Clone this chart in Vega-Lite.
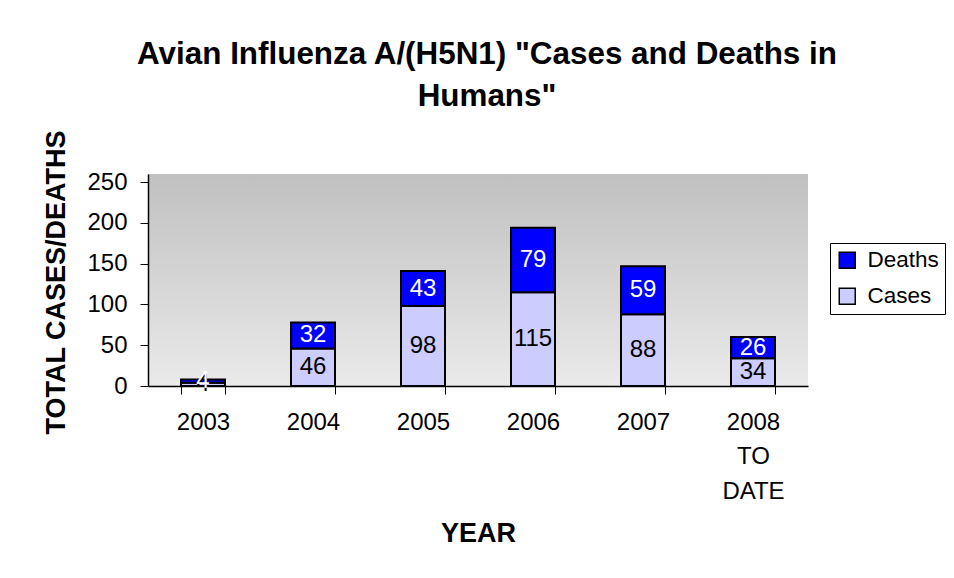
{
  "$schema": "https://vega.github.io/schema/vega-lite/v6.json",
  "width": 660,
  "height": 212,
  "autosize": {"type": "none"},
  "padding": {"left": 148, "top": 174, "right": 146, "bottom": 192},
  "background": "white",
  "title": {
    "text": ["Avian Influenza A/(H5N1) \"Cases and Deaths in", "Humans\""],
    "font": "Liberation Sans",
    "fontSize": 31.4,
    "fontWeight": "bold",
    "lineHeight": 42,
    "anchor": "middle",
    "offset": 17,
    "dx": 9,
    "color": "black"
  },
  "config": {
    "font": "Liberation Sans",
    "view": {
      "stroke": null,
      "fill": {
        "gradient": "linear",
        "x1": 0, "y1": 0, "x2": 0, "y2": 1,
        "stops": [{"offset": 0, "color": "#c0c0c0"}, {"offset": 1, "color": "#eaeaea"}]
      }
    },
    "axis": {
      "domainColor": "black",
      "domainWidth": 1.5,
      "tickColor": "black",
      "tickWidth": 1,
      "tickSize": 8,
      "grid": false,
      "labelFont": "Liberation Sans",
      "labelFontSize": 24,
      "labelColor": "black",
      "titleFont": "Liberation Sans",
      "titleFontSize": 27,
      "titleFontWeight": "bold",
      "titleColor": "black"
    }
  },
  "data": {
    "values": [
      {"year": "2003", "series": "Cases", "value": 4},
      {"year": "2003", "series": "Deaths", "value": 4},
      {"year": "2004", "series": "Cases", "value": 46},
      {"year": "2004", "series": "Deaths", "value": 32},
      {"year": "2005", "series": "Cases", "value": 98},
      {"year": "2005", "series": "Deaths", "value": 43},
      {"year": "2006", "series": "Cases", "value": 115},
      {"year": "2006", "series": "Deaths", "value": 79},
      {"year": "2007", "series": "Cases", "value": 88},
      {"year": "2007", "series": "Deaths", "value": 59},
      {"year": "2008 TO DATE", "series": "Cases", "value": 34},
      {"year": "2008 TO DATE", "series": "Deaths", "value": 26}
    ]
  },
  "encoding": {
    "x": {
      "field": "year",
      "type": "nominal",
      "sort": null,
      "scale": {"paddingInner": 0.6, "paddingOuter": 0.3},
      "axis": {
        "title": "YEAR",
        "labelAngle": 0,
        "tickBand": "extent",
        "labelPadding": 16,
        "labelBaseline": "top",
        "labelLineHeight": 34.5,
        "labelExpr": "datum.value == '2008 TO DATE' ? ['2008', 'TO', 'DATE'] : datum.value",
        "titleY": 147,
        "titleBaseline": "middle"
      }
    },
    "order": {"field": "series", "type": "nominal", "sort": "ascending"}
  },
  "layer": [
    {
      "mark": {"type": "bar", "stroke": "black", "strokeWidth": 2},
      "encoding": {
        "y": {
          "field": "value",
          "type": "quantitative",
          "stack": "zero",
          "scale": {"domain": [0, 250]},
          "axis": {
            "title": "TOTAL CASES/DEATHS",
            "values": [0, 50, 100, 150, 200, 250],
            "labelPadding": 13,
            "titleX": -92,
            "titleY": 108,
            "titleBaseline": "middle"
          }
        },
        "color": {
          "field": "series",
          "type": "nominal",
          "scale": {"domain": ["Deaths", "Cases"], "range": ["#0000FF", "#CCCCFF"]},
          "legend": {
            "title": null,
            "orient": "none",
            "legendX": 682,
            "legendY": 69,
            "padding": 6,
            "fillColor": "white",
            "strokeColor": "black",
            "symbolType": "square",
            "symbolSize": 256,
            "symbolStrokeColor": "black",
            "symbolStrokeWidth": 1.5,
            "symbolOpacity": 1,
            "labelFontSize": 22.5,
            "labelColor": "black",
            "labelOffset": 9,
            "rowPadding": 13
          }
        }
      }
    },
    {
      "mark": {"type": "text", "fontSize": 24, "font": "Liberation Sans"},
      "encoding": {
        "y": {"field": "value", "type": "quantitative", "stack": "zero", "bandPosition": 0.5},
        "text": {"field": "value", "type": "quantitative"},
        "color": {
          "condition": {"test": "datum.series === 'Deaths'", "value": "white"},
          "value": "black"
        }
      }
    }
  ]
}
